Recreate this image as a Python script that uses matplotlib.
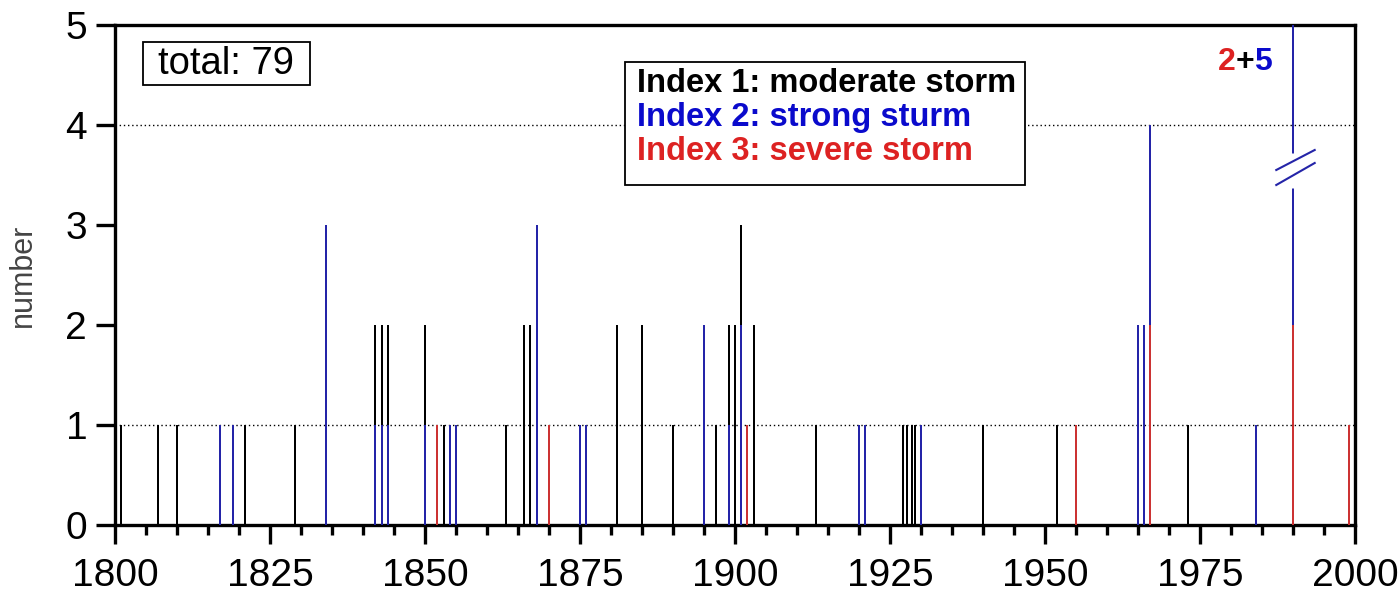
import matplotlib
matplotlib.use("Agg")
import matplotlib.pyplot as plt
import numpy as np
from matplotlib.patches import Rectangle

plt.rcParams['font.family'] = ['Liberation Sans', 'DejaVu Sans']

# ---- data ----
years = [1801, 1807, 1810, 1817, 1819, 1821, 1829, 1834, 1842, 1843,
         1844, 1850, 1852, 1853, 1854, 1855, 1863, 1866, 1867, 1868,
         1870, 1875, 1876, 1881, 1885, 1890, 1895, 1897, 1899, 1900,
         1901, 1902, 1903, 1913, 1920, 1921, 1927.1, 1927.8, 1928.5, 1929.0,
         1930, 1940, 1952, 1955, 1965, 1966, 1967, 1973, 1984, 1990,
         1999]
index1 = [1, 1, 1, 0, 0, 1, 1, 0, 1, 1,
          1, 1, 0, 1, 0, 0, 1, 2, 2, 0,
          0, 0, 0, 2, 2, 1, 0, 1, 1, 2,
          1, 0, 2, 1, 0, 0, 1, 1, 1, 1,
          0, 1, 1, 0, 0, 0, 0, 1, 0, 0,
          0]
index2 = [0, 0, 0, 1, 1, 0, 0, 3, 1, 1,
          1, 1, 0, 0, 1, 1, 0, 0, 0, 3,
          0, 1, 1, 0, 0, 0, 2, 0, 1, 0,
          2, 0, 0, 0, 1, 1, 0, 0, 0, 0,
          1, 0, 0, 0, 2, 2, 2, 0, 1, 5,
          0]
index3 = [0, 0, 0, 0, 0, 0, 0, 0, 0, 0,
          0, 0, 1, 0, 0, 0, 0, 0, 0, 0,
          1, 0, 0, 0, 0, 0, 0, 0, 0, 0,
          0, 1, 0, 0, 0, 0, 0, 0, 0, 0,
          0, 0, 0, 1, 0, 0, 2, 0, 0, 2,
          1]
legend_labels = ["Index 1: moderate storm", "Index 2: strong sturm", "Index 3: severe storm"]
total_label = "total: 79"
break_year = 1990
break_parts = ["2", "+", "5"]
grid_levels = [1, 4]
xticks_major = [1800, 1825, 1850, 1875, 1900, 1925, 1950, 1975, 2000]

c1, c2, c3 = "#000000", "#2424a8", "#cc3333"
t2, t3 = "#0a0acc", "#dd2222"

W, H = 1400, 611
fig = plt.figure(figsize=(W / 100, H / 100), dpi=100)
ax = fig.add_axes([115 / W, 1 - 525 / H, 1240 / W, 500 / H])

y = np.array(years, dtype=float)
i1 = np.array(index1); i2 = np.array(index2); i3 = np.array(index3)
bw = 0.35
ax.bar(y, i3, width=bw, color=c3, linewidth=0, zorder=3)
ax.bar(y, i2, width=bw, bottom=i3, color=c2, linewidth=0, zorder=3)
ax.bar(y, i1, width=bw, bottom=i3 + i2, color=c1, linewidth=0, zorder=3)

for g in grid_levels:
    ax.axhline(g, color="black", lw=1.0, ls=(0, (1, 2)), zorder=1)

ax.set_xlim(1800, 2000)
ax.set_ylim(0, 5)
ax.set_xticks(xticks_major)
ax.set_xticks(np.arange(1800, 2001, 5), minor=True)
ax.set_yticks(range(0, 6))
ax.tick_params(axis="x", which="major", length=14, width=2.4, labelsize=28, pad=10, direction="out")
ax.tick_params(axis="x", which="minor", length=7, width=2.4, direction="out")
ax.tick_params(axis="y", which="major", length=14, width=2.4, labelsize=28, pad=6, direction="out")
for s in ax.spines.values():
    s.set_linewidth(2.4)
ax.set_ylabel("number", fontsize=22, color="#444444")
ax.yaxis.set_label_coords(-0.062, 0.5)

# break in the 1990 bar
ax.plot([break_year, break_year], [3.37, 3.72], color="white", lw=3.5, zorder=4, solid_capstyle="butt")
ax.plot([break_year - 2.7, break_year + 3.5], [3.55, 3.75], color=c2, lw=1.5, zorder=5)
ax.plot([break_year - 2.7, break_year + 3.5], [3.40, 3.62], color=c2, lw=1.5, zorder=5)

# 2+5 label
t_a = ax.text(0.8895, 0.91, break_parts[0], transform=ax.transAxes, fontsize=23,
              fontweight="bold", color=t3, va="baseline", ha="left")
t_b = ax.annotate(break_parts[1], xy=(1, 0), xycoords=t_a, fontsize=23, fontweight="bold",
                  color="black", va="bottom", ha="left")
t_c = ax.annotate(break_parts[2], xy=(1, 0), xycoords=t_b, fontsize=23, fontweight="bold",
                  color=t2, va="bottom", ha="left")

# total box
ax.add_patch(Rectangle((0.0226, 0.88), 0.1347, 0.086, transform=ax.transAxes,
                       fc="white", ec="black", lw=1.3, zorder=6))
ax.text(0.0899, 0.903, total_label, transform=ax.transAxes, fontsize=27.5, ha="center",
        va="baseline", zorder=7)

# legend box
ax.add_patch(Rectangle((0.4113, 0.68), 0.3226, 0.246, transform=ax.transAxes,
                       fc="white", ec="black", lw=1.3, zorder=6))
for lab, col, yy in zip(legend_labels, [c1, t2, t3], [0.8666, 0.7986, 0.73]):
    ax.text(0.421, yy, lab, transform=ax.transAxes, fontsize=23.5, fontweight="bold",
            color=col, va="baseline", ha="left", zorder=7)

fig.savefig("out.png", dpi=100)
